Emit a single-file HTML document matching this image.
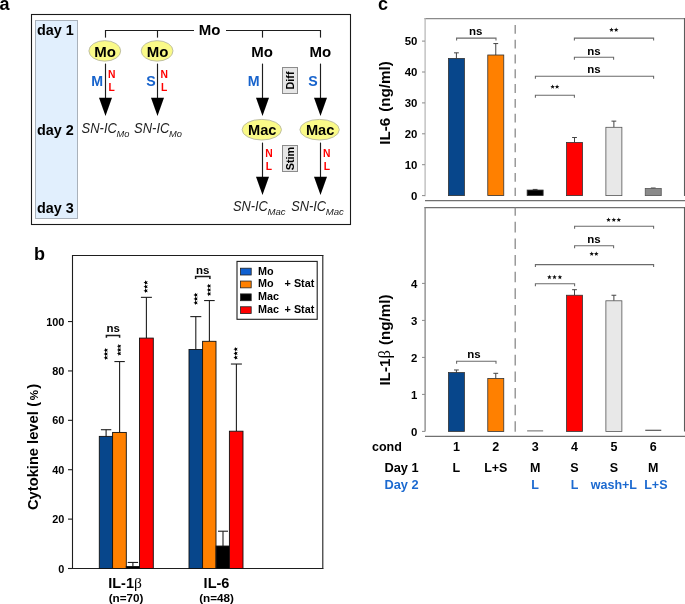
<!DOCTYPE html>
<html><head><meta charset="utf-8"><style>
html,body{margin:0;padding:0;background:#fff;}
svg{display:block;will-change:transform;font-family:"Liberation Sans", sans-serif;}
</style></head><body>
<svg width="685" height="604" viewBox="0 0 685 604">
<rect width="685" height="604" fill="#fff"/>
<text x="4.6" y="9.8" font-size="18" font-weight="bold" text-anchor="middle" fill="#000" >a</text>
<rect x="31.5" y="14.5" width="319" height="210" fill="none" stroke="#1a1a1a" stroke-width="1.1" />
<rect x="35.5" y="20.5" width="42" height="198" fill="#e1effd" stroke="#a9b1ba" stroke-width="1" />
<text x="36.9" y="35" font-size="14.4" font-weight="bold" text-anchor="start" fill="#000" >day 1</text>
<text x="36.9" y="134.9" font-size="14.4" font-weight="bold" text-anchor="start" fill="#000" >day 2</text>
<text x="36.9" y="213" font-size="14.4" font-weight="bold" text-anchor="start" fill="#000" >day 3</text>
<line x1="105" y1="30.5" x2="194" y2="30.5" stroke="#1e1e1e" stroke-width="1.15" />
<line x1="226" y1="30.5" x2="321" y2="30.5" stroke="#1e1e1e" stroke-width="1.15" />
<line x1="105.5" y1="30" x2="105.5" y2="37.6" stroke="#1e1e1e" stroke-width="1.15" />
<line x1="157.5" y1="30" x2="157.5" y2="37.6" stroke="#1e1e1e" stroke-width="1.15" />
<line x1="262.5" y1="30" x2="262.5" y2="37.6" stroke="#1e1e1e" stroke-width="1.15" />
<line x1="320.5" y1="30" x2="320.5" y2="37.6" stroke="#1e1e1e" stroke-width="1.15" />
<text x="209.6" y="35" font-size="15" font-weight="bold" text-anchor="middle" fill="#000" >Mo</text>
<ellipse cx="104.8" cy="50.9" rx="15.9" ry="10.25" fill="#fafa88" stroke="#b9b9a2" stroke-width="0.9"/>
<text x="105.2" y="57" font-size="15" font-weight="bold" text-anchor="middle" fill="#000" >Mo</text>
<ellipse cx="157.1" cy="50.9" rx="15.9" ry="10.25" fill="#fafa88" stroke="#b9b9a2" stroke-width="0.9"/>
<text x="157.5" y="57" font-size="15" font-weight="bold" text-anchor="middle" fill="#000" >Mo</text>
<text x="262.1" y="57" font-size="15" font-weight="bold" text-anchor="middle" fill="#000" >Mo</text>
<text x="320.4" y="57" font-size="15" font-weight="bold" text-anchor="middle" fill="#000" >Mo</text>
<line x1="105.5" y1="63.6" x2="105.5" y2="98.8" stroke="#1e1e1e" stroke-width="1.15" />
<polygon points="99.0,97.8 112.0,97.8 105.5,116" fill="#000"/>
<line x1="157.5" y1="63.6" x2="157.5" y2="98.8" stroke="#1e1e1e" stroke-width="1.15" />
<polygon points="151.0,97.8 164.0,97.8 157.5,116" fill="#000"/>
<line x1="262.5" y1="63.6" x2="262.5" y2="98.8" stroke="#1e1e1e" stroke-width="1.15" />
<polygon points="256.0,97.8 269.0,97.8 262.5,116" fill="#000"/>
<line x1="320.5" y1="63.6" x2="320.5" y2="98.8" stroke="#1e1e1e" stroke-width="1.15" />
<polygon points="314.0,97.8 327.0,97.8 320.5,116" fill="#000"/>
<line x1="262.5" y1="142.6" x2="262.5" y2="177.8" stroke="#1e1e1e" stroke-width="1.15" />
<polygon points="256.0,176.8 269.0,176.8 262.5,195" fill="#000"/>
<line x1="320.5" y1="142.6" x2="320.5" y2="177.8" stroke="#1e1e1e" stroke-width="1.15" />
<polygon points="314.0,176.8 327.0,176.8 320.5,195" fill="#000"/>
<text x="97.1" y="86" font-size="14.2" font-weight="bold" text-anchor="middle" fill="#1763cc" >M</text>
<text x="151.1" y="86" font-size="14.2" font-weight="bold" text-anchor="middle" fill="#1763cc" >S</text>
<text x="253.7" y="86" font-size="14.2" font-weight="bold" text-anchor="middle" fill="#1763cc" >M</text>
<text x="312.9" y="86" font-size="14.2" font-weight="bold" text-anchor="middle" fill="#1763cc" >S</text>
<text x="111.7" y="78.2" font-size="10.3" font-weight="bold" text-anchor="middle" fill="#ff0000" >N</text>
<text x="111.7" y="91" font-size="10.3" font-weight="bold" text-anchor="middle" fill="#ff0000" >L</text>
<text x="164.1" y="78.2" font-size="10.3" font-weight="bold" text-anchor="middle" fill="#ff0000" >N</text>
<text x="164.1" y="91" font-size="10.3" font-weight="bold" text-anchor="middle" fill="#ff0000" >L</text>
<text x="269" y="157.2" font-size="10.3" font-weight="bold" text-anchor="middle" fill="#ff0000" >N</text>
<text x="269" y="170" font-size="10.3" font-weight="bold" text-anchor="middle" fill="#ff0000" >L</text>
<text x="326.8" y="157.2" font-size="10.3" font-weight="bold" text-anchor="middle" fill="#ff0000" >N</text>
<text x="326.8" y="170" font-size="10.3" font-weight="bold" text-anchor="middle" fill="#ff0000" >L</text>
<rect x="282.5" y="67.5" width="15" height="26" fill="#e6e6e6" stroke="#8c8c8c" stroke-width="1" />
<text x="290.2" y="80.5" font-size="10.8" font-weight="bold" text-anchor="middle" dominant-baseline="central" transform="rotate(-90 290.2 80.5)">Diff</text>
<rect x="282.5" y="145.5" width="15" height="26" fill="#e6e6e6" stroke="#8c8c8c" stroke-width="1" />
<text x="290.2" y="158.5" font-size="10.8" font-weight="bold" text-anchor="middle" dominant-baseline="central" transform="rotate(-90 290.2 158.5)">Stim</text>
<ellipse cx="261.8" cy="129.7" rx="19.7" ry="10.3" fill="#fafa88" stroke="#b9b9a2" stroke-width="0.9"/>
<text x="262.3" y="135" font-size="14.6" font-weight="bold" text-anchor="middle" fill="#000" >Mac</text>
<ellipse cx="319.6" cy="129.7" rx="19.7" ry="10.3" fill="#fafa88" stroke="#b9b9a2" stroke-width="0.9"/>
<text x="320.1" y="135" font-size="14.6" font-weight="bold" text-anchor="middle" fill="#000" >Mac</text>
<text x="81.6" y="132.6" font-size="13.8" font-style="italic" fill="#222" textLength="35.3" lengthAdjust="spacingAndGlyphs">SN-IC</text>
<text x="116.6" y="137" font-size="9.3" font-style="italic" fill="#222">Mo</text>
<text x="134.1" y="132.6" font-size="13.8" font-style="italic" fill="#222" textLength="35.3" lengthAdjust="spacingAndGlyphs">SN-IC</text>
<text x="169.09999999999997" y="137" font-size="9.3" font-style="italic" fill="#222">Mo</text>
<text x="232.9" y="211" font-size="13.8" font-style="italic" fill="#222" textLength="34.9" lengthAdjust="spacingAndGlyphs">SN-IC</text>
<text x="267.5" y="215.4" font-size="9.6" font-style="italic" fill="#222">Mac</text>
<text x="291.2" y="211" font-size="13.8" font-style="italic" fill="#222" textLength="34.9" lengthAdjust="spacingAndGlyphs">SN-IC</text>
<text x="325.79999999999995" y="215.4" font-size="9.6" font-style="italic" fill="#222">Mac</text>
<text x="39.4" y="260.2" font-size="18" font-weight="bold" text-anchor="middle" fill="#000" >b</text>
<line x1="72" y1="255.5" x2="323.3" y2="255.5" stroke="#1e1e1e" stroke-width="1.1" />
<line x1="322.8" y1="255" x2="322.8" y2="569" stroke="#1e1e1e" stroke-width="1.1" />
<line x1="72.5" y1="255" x2="72.5" y2="569" stroke="#1e1e1e" stroke-width="1.1" />
<line x1="72" y1="568.5" x2="323.3" y2="568.5" stroke="#1e1e1e" stroke-width="1.1" />
<line x1="68" y1="568.5" x2="72.5" y2="568.5" stroke="#1e1e1e" stroke-width="1.1" />
<text x="64.3" y="572.6" font-size="10.9" font-weight="bold" text-anchor="end" fill="#000" >0</text>
<line x1="68" y1="519.11" x2="72.5" y2="519.11" stroke="#1e1e1e" stroke-width="1.1" />
<text x="64.3" y="523.21" font-size="10.9" font-weight="bold" text-anchor="end" fill="#000" >20</text>
<line x1="68" y1="469.72" x2="72.5" y2="469.72" stroke="#1e1e1e" stroke-width="1.1" />
<text x="64.3" y="473.82000000000005" font-size="10.9" font-weight="bold" text-anchor="end" fill="#000" >40</text>
<line x1="68" y1="420.33" x2="72.5" y2="420.33" stroke="#1e1e1e" stroke-width="1.1" />
<text x="64.3" y="424.43" font-size="10.9" font-weight="bold" text-anchor="end" fill="#000" >60</text>
<line x1="68" y1="370.94" x2="72.5" y2="370.94" stroke="#1e1e1e" stroke-width="1.1" />
<text x="64.3" y="375.04" font-size="10.9" font-weight="bold" text-anchor="end" fill="#000" >80</text>
<line x1="68" y1="321.55" x2="72.5" y2="321.55" stroke="#1e1e1e" stroke-width="1.1" />
<text x="64.3" y="325.65000000000003" font-size="10.9" font-weight="bold" text-anchor="end" fill="#000" >100</text>
<line x1="106.1" y1="436.38175" x2="106.1" y2="429.71410000000003" stroke="#1e1e1e" stroke-width="1.1" />
<line x1="100.89999999999999" y1="429.71410000000003" x2="111.3" y2="429.71410000000003" stroke="#1e1e1e" stroke-width="1.1" />
<rect x="99.3" y="436.38" width="13.30" height="132.12" fill="#07468b" stroke="#111" stroke-width="0.9"/>
<line x1="119.6" y1="432.43055" x2="119.6" y2="361.5559" stroke="#1e1e1e" stroke-width="1.1" />
<line x1="114.39999999999999" y1="361.5559" x2="124.8" y2="361.5559" stroke="#1e1e1e" stroke-width="1.1" />
<rect x="112.6" y="432.43" width="13.70" height="136.07" fill="#ff8000" stroke="#111" stroke-width="0.9"/>
<line x1="132.9" y1="566.5244" x2="132.9" y2="562.449725" stroke="#1e1e1e" stroke-width="1.1" />
<line x1="127.7" y1="562.449725" x2="138.1" y2="562.449725" stroke="#1e1e1e" stroke-width="1.1" />
<rect x="126.3" y="566.52" width="13.20" height="1.98" fill="#000" stroke="#111" stroke-width="0.9"/>
<line x1="146.4" y1="338.09565" x2="146.4" y2="297.3489" stroke="#1e1e1e" stroke-width="1.1" />
<line x1="140.9" y1="297.3489" x2="151.9" y2="297.3489" stroke="#1e1e1e" stroke-width="1.1" />
<rect x="139.5" y="338.10" width="13.80" height="230.40" fill="#ff0000" stroke="#111" stroke-width="0.9"/>
<line x1="195.8" y1="349.45534999999995" x2="195.8" y2="316.611" stroke="#1e1e1e" stroke-width="1.1" />
<line x1="190.3" y1="316.611" x2="201.3" y2="316.611" stroke="#1e1e1e" stroke-width="1.1" />
<rect x="189" y="349.46" width="13.60" height="219.04" fill="#07468b" stroke="#111" stroke-width="0.9"/>
<line x1="209.4" y1="341.306" x2="209.4" y2="300.55925" stroke="#1e1e1e" stroke-width="1.1" />
<line x1="204.1" y1="300.55925" x2="214.70000000000002" y2="300.55925" stroke="#1e1e1e" stroke-width="1.1" />
<rect x="202.6" y="341.31" width="13.40" height="227.19" fill="#ff8000" stroke="#111" stroke-width="0.9"/>
<line x1="223.0" y1="546.02755" x2="223.0" y2="531.21055" stroke="#1e1e1e" stroke-width="1.1" />
<line x1="218.0" y1="531.21055" x2="228.0" y2="531.21055" stroke="#1e1e1e" stroke-width="1.1" />
<rect x="216.1" y="546.03" width="13.30" height="22.47" fill="#000" stroke="#111" stroke-width="0.9"/>
<line x1="236.4" y1="431.19579999999996" x2="236.4" y2="364.0254" stroke="#1e1e1e" stroke-width="1.1" />
<line x1="230.9" y1="364.0254" x2="241.9" y2="364.0254" stroke="#1e1e1e" stroke-width="1.1" />
<rect x="229.4" y="431.20" width="13.60" height="137.30" fill="#ff0000" stroke="#111" stroke-width="0.9"/>
<polygon points="103.60,350.20 105.06,349.55 105.22,347.97 106.29,349.15 107.85,348.82 107.05,350.20 107.85,351.58 106.29,351.25 105.22,352.43 105.06,350.85" fill="#000"/>
<polygon points="103.60,354.00 105.06,353.35 105.22,351.77 106.29,352.95 107.85,352.62 107.05,354.00 107.85,355.38 106.29,355.05 105.22,356.23 105.06,354.65" fill="#000"/>
<polygon points="103.60,357.80 105.06,357.15 105.22,355.57 106.29,356.75 107.85,356.42 107.05,357.80 107.85,359.18 106.29,358.85 105.22,360.03 105.06,358.45" fill="#000"/>
<polygon points="116.85,346.20 118.31,345.55 118.47,343.97 119.54,345.15 121.10,344.82 120.30,346.20 121.10,347.58 119.54,347.25 118.47,348.43 118.31,346.85" fill="#000"/>
<polygon points="116.85,349.90 118.31,349.25 118.47,347.67 119.54,348.85 121.10,348.52 120.30,349.90 121.10,351.28 119.54,350.95 118.47,352.13 118.31,350.55" fill="#000"/>
<polygon points="116.85,353.60 118.31,352.95 118.47,351.37 119.54,352.55 121.10,352.22 120.30,353.60 121.10,354.98 119.54,354.65 118.47,355.83 118.31,354.25" fill="#000"/>
<polygon points="143.50,282.60 144.96,281.95 145.12,280.37 146.19,281.55 147.75,281.22 146.95,282.60 147.75,283.98 146.19,283.65 145.12,284.83 144.96,283.25" fill="#000"/>
<polygon points="143.50,286.70 144.96,286.05 145.12,284.47 146.19,285.65 147.75,285.32 146.95,286.70 147.75,288.08 146.19,287.75 145.12,288.93 144.96,287.35" fill="#000"/>
<polygon points="143.50,290.80 144.96,290.15 145.12,288.57 146.19,289.75 147.75,289.42 146.95,290.80 147.75,292.18 146.19,291.85 145.12,293.03 144.96,291.45" fill="#000"/>
<polygon points="193.45,295.00 194.91,294.35 195.07,292.77 196.14,293.95 197.70,293.62 196.90,295.00 197.70,296.38 196.14,296.05 195.07,297.23 194.91,295.65" fill="#000"/>
<polygon points="193.45,298.90 194.91,298.25 195.07,296.67 196.14,297.85 197.70,297.52 196.90,298.90 197.70,300.28 196.14,299.95 195.07,301.13 194.91,299.55" fill="#000"/>
<polygon points="193.45,302.80 194.91,302.15 195.07,300.57 196.14,301.75 197.70,301.42 196.90,302.80 197.70,304.18 196.14,303.85 195.07,305.03 194.91,303.45" fill="#000"/>
<polygon points="206.70,286.00 208.16,285.35 208.32,283.77 209.39,284.95 210.95,284.62 210.15,286.00 210.95,287.38 209.39,287.05 208.32,288.23 208.16,286.65" fill="#000"/>
<polygon points="206.70,289.95 208.16,289.30 208.32,287.72 209.39,288.90 210.95,288.57 210.15,289.95 210.95,291.33 209.39,291.00 208.32,292.18 208.16,290.60" fill="#000"/>
<polygon points="206.70,293.90 208.16,293.25 208.32,291.67 209.39,292.85 210.95,292.52 210.15,293.90 210.95,295.28 209.39,294.95 208.32,296.13 208.16,294.55" fill="#000"/>
<polygon points="233.40,349.20 234.86,348.55 235.02,346.97 236.09,348.15 237.65,347.82 236.85,349.20 237.65,350.58 236.09,350.25 235.02,351.43 234.86,349.85" fill="#000"/>
<polygon points="233.40,353.40 234.86,352.75 235.02,351.17 236.09,352.35 237.65,352.02 236.85,353.40 237.65,354.78 236.09,354.45 235.02,355.63 234.86,354.05" fill="#000"/>
<polygon points="233.40,357.60 234.86,356.95 235.02,355.37 236.09,356.55 237.65,356.22 236.85,357.60 237.65,358.98 236.09,358.65 235.02,359.83 234.86,358.25" fill="#000"/>
<polyline points="106.4,337.79999999999995 106.4,335.4 119.6,335.4 119.6,337.79999999999995" fill="none" stroke="#1a1a1a" stroke-width="1.5"/>
<text x="113.3" y="332" font-size="11.5" font-weight="bold" text-anchor="middle" fill="#000" >ns</text>
<polyline points="195.6,279.0 195.6,276.6 209.9,276.6 209.9,279.0" fill="none" stroke="#1a1a1a" stroke-width="1.5"/>
<text x="202.7" y="273.6" font-size="11.5" font-weight="bold" text-anchor="middle" fill="#000" >ns</text>
<rect x="237" y="261.4" width="80.2" height="57.9" fill="#fff" stroke="#1e1e1e" stroke-width="1.1" />
<rect x="240.5" y="268.2" width="10.7" height="6.8" fill="#1060d0" stroke="#222" stroke-width="0.8" />
<text x="258" y="274.59999999999997" font-size="10.8" font-weight="bold" text-anchor="start" fill="#000" >Mo</text>
<rect x="240.5" y="281.05" width="10.7" height="6.8" fill="#ff8000" stroke="#222" stroke-width="0.8" />
<text x="258" y="287.45" font-size="10.8" font-weight="bold" text-anchor="start" fill="#000" >Mo</text>
<text x="314.3" y="287.45" font-size="10.8" font-weight="bold" text-anchor="end" fill="#000" >+ Stat</text>
<rect x="240.5" y="293.9" width="10.7" height="6.8" fill="#000" stroke="#222" stroke-width="0.8" />
<text x="258" y="300.29999999999995" font-size="10.8" font-weight="bold" text-anchor="start" fill="#000" >Mac</text>
<rect x="240.5" y="306.75" width="10.7" height="6.8" fill="#ff0000" stroke="#222" stroke-width="0.8" />
<text x="258" y="313.15" font-size="10.8" font-weight="bold" text-anchor="start" fill="#000" >Mac</text>
<text x="314.3" y="313.15" font-size="10.8" font-weight="bold" text-anchor="end" fill="#000" >+ Stat</text>
<text x="108.2" y="588" font-size="14.5" font-weight="bold">IL-1<tspan font-family="Liberation Serif" font-weight="normal" font-size="15.5">β</tspan></text>
<text x="126.1" y="601.8" font-size="11.7" font-weight="bold" text-anchor="middle" fill="#000" >(n=70)</text>
<text x="216.5" y="588" font-size="14.5" font-weight="bold" text-anchor="middle" fill="#000" >IL-6</text>
<text x="216.5" y="601.8" font-size="11.7" font-weight="bold" text-anchor="middle" fill="#000" >(n=48)</text>
<g transform="translate(38.3,510) rotate(-90)"><text x="0" y="0" font-size="14.7" font-weight="bold">Cytokine level <tspan dx="0.5">(</tspan><tspan font-size="11.5" dx="1.4">%</tspan><tspan dx="1.4">)</tspan></text></g>
<text x="383.0" y="10.4" font-size="18" font-weight="bold" text-anchor="middle" fill="#000" >c</text>
<line x1="424.5" y1="18.6" x2="685" y2="18.6" stroke="#8a8a8a" stroke-width="1.2" />
<line x1="425.1" y1="18" x2="425.1" y2="196.2" stroke="#b4b4b4" stroke-width="1.2" />
<line x1="684.5" y1="18" x2="684.5" y2="195.9" stroke="#5c5c5c" stroke-width="1.1" />
<line x1="425" y1="200.6" x2="685" y2="200.6" stroke="#707070" stroke-width="1.2" />
<line x1="424.5" y1="207.6" x2="685" y2="207.6" stroke="#707070" stroke-width="1.2" />
<line x1="425.1" y1="207" x2="425.1" y2="431.6" stroke="#7c7c7c" stroke-width="1.2" />
<line x1="684.5" y1="207" x2="684.5" y2="431.6" stroke="#5c5c5c" stroke-width="1.1" />
<line x1="425" y1="436.4" x2="685" y2="436.4" stroke="#707070" stroke-width="1.2" />
<line x1="422" y1="195.6" x2="425" y2="195.6" stroke="#8a8a8a" stroke-width="1" />
<text x="417.4" y="199.7" font-size="11.4" font-weight="bold" text-anchor="end" fill="#000" >0</text>
<line x1="422" y1="164.7" x2="425" y2="164.7" stroke="#8a8a8a" stroke-width="1" />
<text x="417.4" y="168.79999999999998" font-size="11.4" font-weight="bold" text-anchor="end" fill="#000" >10</text>
<line x1="422" y1="133.8" x2="425" y2="133.8" stroke="#8a8a8a" stroke-width="1" />
<text x="417.4" y="137.9" font-size="11.4" font-weight="bold" text-anchor="end" fill="#000" >20</text>
<line x1="422" y1="102.9" x2="425" y2="102.9" stroke="#8a8a8a" stroke-width="1" />
<text x="417.4" y="107.0" font-size="11.4" font-weight="bold" text-anchor="end" fill="#000" >30</text>
<line x1="422" y1="72.0" x2="425" y2="72.0" stroke="#8a8a8a" stroke-width="1" />
<text x="417.4" y="76.1" font-size="11.4" font-weight="bold" text-anchor="end" fill="#000" >40</text>
<line x1="422" y1="41.099999999999994" x2="425" y2="41.099999999999994" stroke="#8a8a8a" stroke-width="1" />
<text x="417.4" y="45.199999999999996" font-size="11.4" font-weight="bold" text-anchor="end" fill="#000" >50</text>
<line x1="422" y1="431.4" x2="425" y2="431.4" stroke="#8a8a8a" stroke-width="1" />
<text x="417.4" y="435.5" font-size="11.4" font-weight="bold" text-anchor="end" fill="#000" >0</text>
<line x1="422" y1="394.4" x2="425" y2="394.4" stroke="#8a8a8a" stroke-width="1" />
<text x="417.4" y="398.5" font-size="11.4" font-weight="bold" text-anchor="end" fill="#000" >1</text>
<line x1="422" y1="357.4" x2="425" y2="357.4" stroke="#8a8a8a" stroke-width="1" />
<text x="417.4" y="361.5" font-size="11.4" font-weight="bold" text-anchor="end" fill="#000" >2</text>
<line x1="422" y1="320.4" x2="425" y2="320.4" stroke="#8a8a8a" stroke-width="1" />
<text x="417.4" y="324.5" font-size="11.4" font-weight="bold" text-anchor="end" fill="#000" >3</text>
<line x1="422" y1="283.4" x2="425" y2="283.4" stroke="#8a8a8a" stroke-width="1" />
<text x="417.4" y="287.5" font-size="11.4" font-weight="bold" text-anchor="end" fill="#000" >4</text>
<line x1="515.2" y1="24.9" x2="515.2" y2="196" stroke="#8a8a8a" stroke-width="1.3" stroke-dasharray="8.9 5.9"/>
<line x1="515.2" y1="207.6" x2="515.2" y2="431.7" stroke="#8a8a8a" stroke-width="1.3" stroke-dasharray="10.6 6.02" stroke-dashoffset="2.4"/>
<line x1="456.4" y1="58.403999999999996" x2="456.4" y2="52.841999999999985" stroke="#444" stroke-width="1" />
<line x1="454.0" y1="52.841999999999985" x2="458.79999999999995" y2="52.841999999999985" stroke="#444" stroke-width="1" />
<rect x="448.4" y="58.40" width="16.00" height="137.20" fill="#07468b" stroke="#333" stroke-width="0.8"/>
<line x1="456.4" y1="372.57" x2="456.4" y2="369.97999999999996" stroke="#444" stroke-width="1" />
<line x1="454.0" y1="369.97999999999996" x2="458.79999999999995" y2="369.97999999999996" stroke="#444" stroke-width="1" />
<rect x="448.4" y="372.57" width="16.00" height="58.83" fill="#07468b" stroke="#333" stroke-width="0.8"/>
<line x1="495.77" y1="55.004999999999995" x2="495.77" y2="43.572" stroke="#444" stroke-width="1" />
<line x1="493.37" y1="43.572" x2="498.16999999999996" y2="43.572" stroke="#444" stroke-width="1" />
<rect x="487.77" y="55.00" width="16.00" height="140.59" fill="#ff8000" stroke="#333" stroke-width="0.8"/>
<line x1="495.77" y1="378.49" x2="495.77" y2="373.30999999999995" stroke="#444" stroke-width="1" />
<line x1="493.37" y1="373.30999999999995" x2="498.16999999999996" y2="373.30999999999995" stroke="#444" stroke-width="1" />
<rect x="487.77" y="378.49" width="16.00" height="52.91" fill="#ff8000" stroke="#333" stroke-width="0.8"/>
<line x1="535.14" y1="190.03799999999998" x2="535.14" y2="189.42" stroke="#444" stroke-width="1" />
<line x1="532.74" y1="189.42" x2="537.54" y2="189.42" stroke="#444" stroke-width="1" />
<rect x="527.14" y="190.04" width="16.00" height="5.56" fill="#000" stroke="#333" stroke-width="0.8"/>
<line x1="574.51" y1="142.452" x2="574.51" y2="137.50799999999998" stroke="#444" stroke-width="1" />
<line x1="572.11" y1="137.50799999999998" x2="576.91" y2="137.50799999999998" stroke="#444" stroke-width="1" />
<rect x="566.51" y="142.45" width="16.00" height="53.15" fill="#ff0000" stroke="#333" stroke-width="0.8"/>
<line x1="574.51" y1="295.24" x2="574.51" y2="289.68999999999994" stroke="#444" stroke-width="1" />
<line x1="572.11" y1="289.68999999999994" x2="576.91" y2="289.68999999999994" stroke="#444" stroke-width="1" />
<rect x="566.51" y="295.24" width="16.00" height="136.16" fill="#ff0000" stroke="#333" stroke-width="0.8"/>
<line x1="613.88" y1="127.31099999999999" x2="613.88" y2="121.131" stroke="#444" stroke-width="1" />
<line x1="611.48" y1="121.131" x2="616.28" y2="121.131" stroke="#444" stroke-width="1" />
<rect x="605.88" y="127.31" width="16.00" height="68.29" fill="#e8e8e8" stroke="#555" stroke-width="0.8"/>
<line x1="613.88" y1="300.78999999999996" x2="613.88" y2="295.24" stroke="#444" stroke-width="1" />
<line x1="611.48" y1="295.24" x2="616.28" y2="295.24" stroke="#444" stroke-width="1" />
<rect x="605.88" y="300.79" width="16.00" height="130.61" fill="#e8e8e8" stroke="#555" stroke-width="0.8"/>
<line x1="653.25" y1="188.493" x2="653.25" y2="188.02949999999998" stroke="#444" stroke-width="1" />
<line x1="650.85" y1="188.02949999999998" x2="655.65" y2="188.02949999999998" stroke="#444" stroke-width="1" />
<rect x="645.25" y="188.49" width="16.00" height="7.11" fill="#8a8a8a" stroke="#555" stroke-width="0.8"/>
<line x1="527.14" y1="430.9" x2="543.14" y2="430.9" stroke="#555" stroke-width="0.9" />
<line x1="645.25" y1="430.3" x2="661.25" y2="430.3" stroke="#555" stroke-width="1.2" />
<polyline points="456.6,40.6 456.6,38.1 496,38.1 496,40.6" fill="none" stroke="#6a6a6a" stroke-width="1.1"/>
<text x="475.8" y="35" font-size="11.5" font-weight="bold" text-anchor="middle" fill="#000" >ns</text>
<polyline points="574.4,40.6 574.4,38.1 653.6,38.1 653.6,40.6" fill="none" stroke="#6a6a6a" stroke-width="1.1"/>
<polygon points="611.50,27.50 612.12,29.05 613.78,29.16 612.50,30.22 612.91,31.84 611.50,30.95 610.09,31.84 610.50,30.22 609.22,29.16 610.88,29.05" fill="#111"/>
<polygon points="616.20,27.50 616.82,29.05 618.48,29.16 617.20,30.22 617.61,31.84 616.20,30.95 614.79,31.84 615.20,30.22 613.92,29.16 615.58,29.05" fill="#111"/>
<polyline points="574.4,59.8 574.4,57.3 613.6,57.3 613.6,59.8" fill="none" stroke="#6a6a6a" stroke-width="1.1"/>
<text x="594" y="54.6" font-size="11.5" font-weight="bold" text-anchor="middle" fill="#000" >ns</text>
<polyline points="535.4,78.7 535.4,76.2 653.6,76.2 653.6,78.7" fill="none" stroke="#6a6a6a" stroke-width="1.1"/>
<text x="594" y="73.2" font-size="11.5" font-weight="bold" text-anchor="middle" fill="#000" >ns</text>
<polyline points="535.4,97.7 535.4,95.2 574.4,95.2 574.4,97.7" fill="none" stroke="#6a6a6a" stroke-width="1.1"/>
<polygon points="552.60,84.40 553.22,85.95 554.88,86.06 553.60,87.12 554.01,88.74 552.60,87.85 551.19,88.74 551.60,87.12 550.32,86.06 551.98,85.95" fill="#111"/>
<polygon points="557.10,84.40 557.72,85.95 559.38,86.06 558.10,87.12 558.51,88.74 557.10,87.85 555.69,88.74 556.10,87.12 554.82,86.06 556.48,85.95" fill="#111"/>
<polyline points="456.6,363.7 456.6,361.2 496,361.2 496,363.7" fill="none" stroke="#6a6a6a" stroke-width="1.1"/>
<text x="474" y="358" font-size="11.5" font-weight="bold" text-anchor="middle" fill="#000" >ns</text>
<polyline points="574.6,228.7 574.6,226.2 653.6,226.2 653.6,228.7" fill="none" stroke="#6a6a6a" stroke-width="1.1"/>
<polygon points="608.50,217.50 609.12,219.05 610.78,219.16 609.50,220.22 609.91,221.84 608.50,220.95 607.09,221.84 607.50,220.22 606.22,219.16 607.88,219.05" fill="#111"/>
<polygon points="613.80,217.50 614.42,219.05 616.08,219.16 614.80,220.22 615.21,221.84 613.80,220.95 612.39,221.84 612.80,220.22 611.52,219.16 613.18,219.05" fill="#111"/>
<polygon points="618.80,217.50 619.42,219.05 621.08,219.16 619.80,220.22 620.21,221.84 618.80,220.95 617.39,221.84 617.80,220.22 616.52,219.16 618.18,219.05" fill="#111"/>
<polyline points="574.6,248.3 574.6,245.8 613.6,245.8 613.6,248.3" fill="none" stroke="#6a6a6a" stroke-width="1.1"/>
<text x="594" y="242.6" font-size="11.5" font-weight="bold" text-anchor="middle" fill="#000" >ns</text>
<polyline points="535.4,267.1 535.4,264.6 653.6,264.6 653.6,267.1" fill="none" stroke="#6a6a6a" stroke-width="1.1"/>
<polygon points="591.70,251.50 592.32,253.05 593.98,253.16 592.70,254.22 593.11,255.84 591.70,254.95 590.29,255.84 590.70,254.22 589.42,253.16 591.08,253.05" fill="#111"/>
<polygon points="596.30,251.50 596.92,253.05 598.58,253.16 597.30,254.22 597.71,255.84 596.30,254.95 594.89,255.84 595.30,254.22 594.02,253.16 595.68,253.05" fill="#111"/>
<polyline points="535.4,286.3 535.4,283.8 574.6,283.8 574.6,286.3" fill="none" stroke="#6a6a6a" stroke-width="1.1"/>
<polygon points="549.40,274.80 550.02,276.35 551.68,276.46 550.40,277.52 550.81,279.14 549.40,278.25 547.99,279.14 548.40,277.52 547.12,276.46 548.78,276.35" fill="#111"/>
<polygon points="554.50,274.80 555.12,276.35 556.78,276.46 555.50,277.52 555.91,279.14 554.50,278.25 553.09,279.14 553.50,277.52 552.22,276.46 553.88,276.35" fill="#111"/>
<polygon points="559.90,274.80 560.52,276.35 562.18,276.46 560.90,277.52 561.31,279.14 559.90,278.25 558.49,279.14 558.90,277.52 557.62,276.46 559.28,276.35" fill="#111"/>
<g transform="translate(390.2,144.8) rotate(-90)"><text x="0" y="0" font-size="15.2" font-weight="bold">IL-6 <tspan dx="1.8">(ng/ml)</tspan></text></g>
<g transform="translate(390.2,385.6) rotate(-90)"><text x="0" y="0" font-size="15.2" font-weight="bold">IL-1<tspan font-family="Liberation Serif" font-weight="normal" font-size="16.5">β</tspan><tspan dx="5.2">(ng/ml)</tspan></text></g>
<text x="372" y="450.6" font-size="12.5" font-weight="bold" text-anchor="start" fill="#000" >cond</text>
<text x="456.4" y="451" font-size="12.5" font-weight="bold" text-anchor="middle" fill="#000" >1</text>
<text x="495.77" y="451" font-size="12.5" font-weight="bold" text-anchor="middle" fill="#000" >2</text>
<text x="535.14" y="451" font-size="12.5" font-weight="bold" text-anchor="middle" fill="#000" >3</text>
<text x="574.51" y="451" font-size="12.5" font-weight="bold" text-anchor="middle" fill="#000" >4</text>
<text x="613.88" y="451" font-size="12.5" font-weight="bold" text-anchor="middle" fill="#000" >5</text>
<text x="653.25" y="451" font-size="12.5" font-weight="bold" text-anchor="middle" fill="#000" >6</text>
<text x="384.5" y="472.3" font-size="12.8" font-weight="bold" text-anchor="start" fill="#000" >Day 1</text>
<text x="456.4" y="472.3" font-size="12.5" font-weight="bold" text-anchor="middle" fill="#000" >L</text>
<text x="495.77" y="472.3" font-size="12.5" font-weight="bold" text-anchor="middle" fill="#000" >L+S</text>
<text x="535.14" y="472.3" font-size="12.5" font-weight="bold" text-anchor="middle" fill="#000" >M</text>
<text x="574.51" y="472.3" font-size="12.5" font-weight="bold" text-anchor="middle" fill="#000" >S</text>
<text x="613.88" y="472.3" font-size="12.5" font-weight="bold" text-anchor="middle" fill="#000" >S</text>
<text x="653.25" y="472.3" font-size="12.5" font-weight="bold" text-anchor="middle" fill="#000" >M</text>
<text x="384.5" y="489.3" font-size="12.8" font-weight="bold" text-anchor="start" fill="#1c6ad0" >Day 2</text>
<text x="535.14" y="489.3" font-size="12.5" font-weight="bold" text-anchor="middle" fill="#1c6ad0" >L</text>
<text x="574.51" y="489.3" font-size="12.5" font-weight="bold" text-anchor="middle" fill="#1c6ad0" >L</text>
<text x="613.88" y="489.3" font-size="12.5" font-weight="bold" text-anchor="middle" fill="#1c6ad0" >wash+L</text>
<text x="655.85" y="489.3" font-size="12.5" font-weight="bold" text-anchor="middle" fill="#1c6ad0" >L+S</text>
</svg>
</body></html>
